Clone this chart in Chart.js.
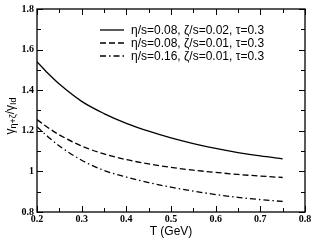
<!DOCTYPE html>
<html>
<head>
<meta charset="utf-8">
<script src="https://cdn.jsdelivr.net/npm/chart.js@4.4.1/dist/chart.umd.min.js"></script>
<style>
  html, body { margin: 0; padding: 0; background: #fff; }
  #wrap { width: 314px; height: 240px; }
</style>
</head>
<body>
<div id="wrap"><canvas id="gamma_chart" width="314" height="240"></canvas></div>
<script>
// temperature points (GeV)
var temps = [0.2, 0.225, 0.25, 0.3, 0.35, 0.4, 0.45, 0.5, 0.55, 0.6, 0.65, 0.7, 0.75];
// ratio curves
var ratio_eta08_zeta02 = [1.54, 1.482, 1.43, 1.345, 1.285, 1.237, 1.198, 1.165, 1.137, 1.113, 1.093, 1.076, 1.062];
var ratio_eta08_zeta01 = [1.255, 1.215, 1.18, 1.125, 1.086, 1.058, 1.037, 1.02, 1.006, 0.995, 0.985, 0.977, 0.97];
var ratio_eta16_zeta01 = [1.22, 1.17, 1.125, 1.055, 1.005, 0.972, 0.945, 0.922, 0.903, 0.886, 0.872, 0.861, 0.852];
var series_labels = ['\u03b7/s=0.08, \u03b6/s=0.02, \u03c4=0.3',
                     '\u03b7/s=0.08, \u03b6/s=0.01, \u03c4=0.3',
                     '\u03b7/s=0.16, \u03b6/s=0.01, \u03c4=0.3'];
var x_ticks = [0.2, 0.3, 0.4, 0.5, 0.6, 0.7, 0.8];
var y_ticks = [0.8, 1, 1.2, 1.4, 1.6, 1.8];

function $id(id) { return document.getElementById(id); }

function to_points(vals) {
    return vals.map(function (v, i) { return {x: temps[i], y: v}; });
}

// inward ticks on all four sides, with minors
var frame_ticks = {
    id: 'frame_ticks',
    afterDraw: function (chart) {
        var ctx = chart.ctx;
        var a = chart.chartArea;
        var xs = chart.scales.x, ys = chart.scales.y;
        ctx.save();
        ctx.strokeStyle = '#000';
        ctx.lineWidth = 1.3;
        ctx.strokeRect(a.left, a.top, a.right - a.left, a.bottom - a.top);
        ctx.lineWidth = 1;
        ctx.beginPath();
        for (var t = 0.2; t <= 0.8001; t += 0.05) {
            var px = Math.round(xs.getPixelForValue(t)) + 0.5;
            var major = Math.abs(Math.round(t * 10) - t * 10) < 0.01;
            var len = major ? 6 : 4;
            ctx.moveTo(px, a.bottom); ctx.lineTo(px, a.bottom - len);
            ctx.moveTo(px, a.top); ctx.lineTo(px, a.top + len);
        }
        for (var v = 0.8; v <= 1.8001; v += 0.1) {
            var py = Math.round(ys.getPixelForValue(v)) + 0.5;
            var majorY = Math.abs(Math.round(v * 5) - v * 5) < 0.01;
            var lenY = majorY ? 6 : 4;
            ctx.moveTo(a.left, py); ctx.lineTo(a.left + lenY, py);
            ctx.moveTo(a.right, py); ctx.lineTo(a.right - lenY, py);
        }
        ctx.stroke();
        ctx.restore();
    }
};

// legend with line samples, and the axis titles
var annotations = {
    id: 'annotations',
    afterDraw: function (chart) {
        var ctx = chart.ctx;
        ctx.save();
        ctx.fillStyle = '#000';
        ctx.strokeStyle = '#000';
        ctx.font = '12px "Liberation Sans", Arial, sans-serif';
        ctx.textBaseline = 'middle';
        var rows = [30, 43, 56];
        chart.data.datasets.forEach(function (ds, i) {
            ctx.beginPath();
            ctx.lineWidth = ds.borderWidth;
            ctx.setLineDash(ds.borderDash || []);
            ctx.moveTo(100, rows[i]);
            ctx.lineTo(124, rows[i]);
            ctx.stroke();
            ctx.setLineDash([]);
            ctx.fillText(ds.label, 131, rows[i] + 0.5);
        });

        // x title
        ctx.textAlign = 'center';
        ctx.fillText('T (GeV)', 171, 232);

        // y title with subscripts
        ctx.translate(11, 116);
        ctx.rotate(-Math.PI / 2);
        var big = '12px "Liberation Sans", Arial, sans-serif';
        var small = '9px "Liberation Sans", Arial, sans-serif';
        var parts = [['\u03b3', big, 0], ['\u03b7+\u03b6', small, 3], ['/\u03b3', big, 0], ['Id', small, 3]];
        var total = 0;
        parts.forEach(function (p) { ctx.font = p[1]; total += ctx.measureText(p[0]).width; });
        var x = -total / 2;
        ctx.textAlign = 'left';
        parts.forEach(function (p) {
            ctx.font = p[1];
            ctx.fillText(p[0], x, p[2]);
            x += ctx.measureText(p[0]).width;
        });
        ctx.restore();
    }
};

var gamma_chart = new Chart($id('gamma_chart').getContext('2d'), {
    type: 'line',
    data: {
        datasets: [{
            label: series_labels[0],
            data: to_points(ratio_eta08_zeta02),
            borderColor: '#000',
            borderWidth: 1.3,
            pointRadius: 0,
            cubicInterpolationMode: 'monotone'
        }, {
            label: series_labels[1],
            data: to_points(ratio_eta08_zeta01),
            borderColor: '#000',
            borderWidth: 1.3,
            borderDash: [6, 3],
            pointRadius: 0,
            cubicInterpolationMode: 'monotone'
        }, {
            label: series_labels[2],
            data: to_points(ratio_eta16_zeta01),
            borderColor: '#000',
            borderWidth: 1.3,
            borderDash: [6, 3, 1.5, 3],
            pointRadius: 0,
            cubicInterpolationMode: 'monotone'
        }]
    },
    options: {
        responsive: false,
        animation: false,
        layout: { padding: { left: 0, right: 9, top: 5, bottom: 0 } },
        plugins: {
            legend: { display: false },
            tooltip: { enabled: false }
        },
        scales: {
            x: {
                type: 'linear',
                min: 0.2,
                max: 0.8,
                afterBuildTicks: function (scale) {
                    scale.ticks = x_ticks.map(function (v) { return {value: v}; });
                },
                afterFit: function (scale) { scale.height = 28; },
                grid: { display: false, drawTicks: false },
                border: { display: false },
                ticks: {
                    color: '#000',
                    padding: 1,
                    maxRotation: 0,
                    font: { family: '"Liberation Serif", serif', size: 10, weight: 'bold' },
                    callback: function (v) { return String(Math.round(v * 10) / 10); }
                }
            },
            y: {
                min: 0.8,
                max: 1.8,
                afterBuildTicks: function (scale) {
                    scale.ticks = y_ticks.map(function (v) { return {value: v}; });
                },
                afterFit: function (scale) { scale.width = 37; },
                grid: { display: false, drawTicks: false },
                border: { display: false },
                ticks: {
                    color: '#000',
                    padding: 3,
                    font: { family: '"Liberation Serif", serif', size: 10, weight: 'bold' },
                    callback: function (v) { return String(Math.round(v * 10) / 10); }
                }
            }
        }
    },
    plugins: [frame_ticks, annotations]
});
</script>
</body>
</html>
